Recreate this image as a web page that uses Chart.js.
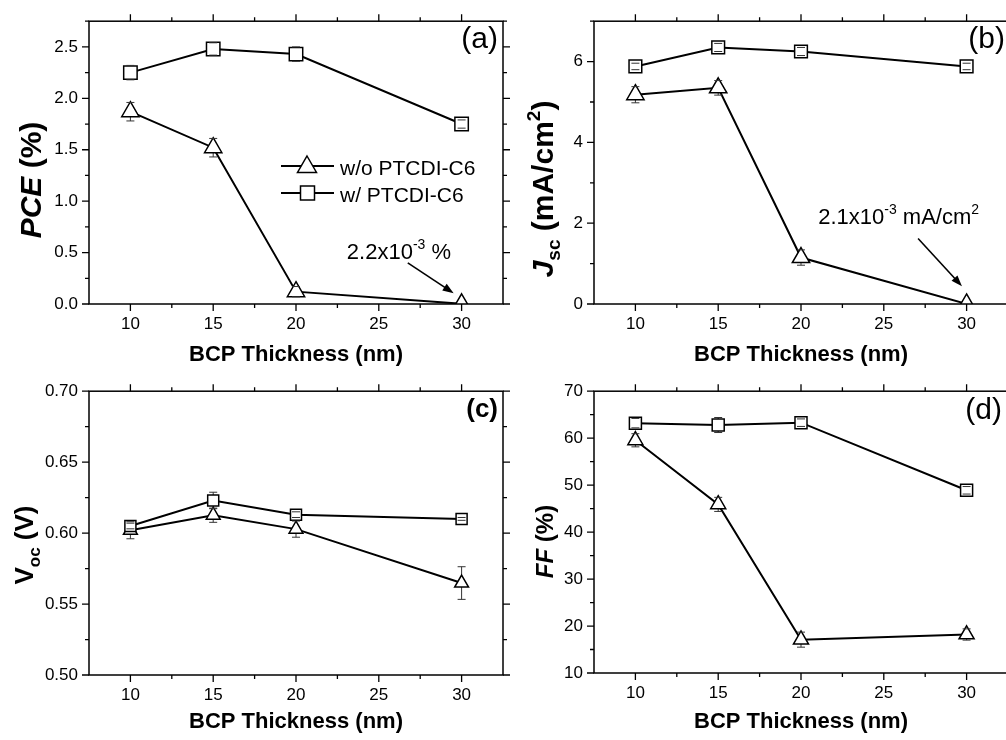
<!DOCTYPE html>
<html>
<head>
<meta charset="utf-8">
<script src="https://cdn.jsdelivr.net/npm/chart.js@4/dist/chart.umd.min.js"></script>
<style>
html, body { margin: 0; padding: 0; background: #fff; overflow: hidden; }
#wrap { position: relative; width: 1006px; height: 740px; overflow: hidden; background: #fff; }
canvas { position: absolute; }
</style>
</head>
<body>
<div id="wrap">
  <canvas id="pa" width="520" height="370" style="left:0;top:0"></canvas>
  <canvas id="pb" width="520" height="370" style="left:503px;top:0"></canvas>
  <canvas id="pc" width="520" height="370" style="left:0;top:370px"></canvas>
  <canvas id="pd" width="520" height="370" style="left:503px;top:370px"></canvas>
</div>
<script>
// datos
const thickness = [10, 15, 20, 30];
const seriesNames = ['w/ PTCDI-C6', 'w/o PTCDI-C6'];

const pceWith = [2.25, 2.48, 2.43, 1.75];
const pceWithErr = [0.07, 0.06, 0.07, 0.04];
const pceWithout = [1.87, 1.52, 0.12, 0.0022];
const pceWithoutErr = [0.09, 0.09, 0.05, 0];

const jscWith = [5.88, 6.35, 6.25, 5.88];
const jscWithErr = [0.08, 0.1, 0.1, 0.08];
const jscWithout = [5.18, 5.35, 1.15, 0.0021];
const jscWithoutErr = [0.2, 0.18, 0.19, 0];

const vocWith = [0.605, 0.623, 0.613, 0.610];
const vocWithErr = [0.002, 0.0058, 0.002, 0.001];
const vocWithout = [0.602, 0.6126, 0.6028, 0.5648];
const vocWithoutErr = [0.006, 0.005, 0.0057, 0.0115];

const ffWith = [63.2, 62.8, 63.3, 48.9];
const ffWithErr = [1.0, 1.6, 0.8, 0.8];
const ffWithout = [59.55, 45.9, 17.1, 18.2];
const ffWithoutErr = [1.4, 1.5, 1.6, 1.2];

// ticks
const xMajor = [10, 15, 20, 25, 30];
const xMinor = [12.5, 17.5, 22.5, 27.5];
const pceMajor = [0, 0.5, 1, 1.5, 2, 2.5];
const pceMinor = [0.25, 0.75, 1.25, 1.75, 2.25, 2.75];
const jscMajor = [0, 2, 4, 6];
const jscMinor = [1, 3, 5, 7];
const vocMajor = [0.5, 0.55, 0.6, 0.65, 0.7];
const vocMinor = [0.525, 0.575, 0.625, 0.675];
const ffMajor = [10, 20, 30, 40, 50, 60, 70];
const ffMinor = [15, 25, 35, 45, 55, 65];

const FONT = "'Liberation Sans', Arial, Helvetica, sans-serif";
Chart.defaults.font.family = FONT;
Chart.defaults.color = '#000';

function fontOf(p) {
  return (p.italic ? 'italic ' : '') + (p.bold ? 'bold ' : '') + p.size + 'px ' + FONT;
}

// texto con sub/superindices
function drawRich(ctx, parts, x, y, rotate, align) {
  ctx.save();
  ctx.translate(x, y);
  if (rotate) ctx.rotate(-Math.PI / 2);
  ctx.textBaseline = 'alphabetic';
  ctx.textAlign = 'left';
  ctx.fillStyle = '#000';
  let total = 0;
  parts.forEach(p => { ctx.font = fontOf(p); p.w = ctx.measureText(p.t).width; total += p.w; });
  let cx = align === 'center' ? -total / 2 : 0;
  parts.forEach(p => { ctx.font = fontOf(p); ctx.fillText(p.t, cx, p.dy || 0); cx += p.w; });
  ctx.restore();
}

function arrow(ctx, x1, y1, x2, y2) {
  const a = Math.atan2(y2 - y1, x2 - x1), L = 11, W = 4;
  ctx.save();
  ctx.strokeStyle = '#000';
  ctx.fillStyle = '#000';
  ctx.lineWidth = 1.6;
  ctx.beginPath();
  ctx.moveTo(x1, y1);
  ctx.lineTo(x2 - L * 0.8 * Math.cos(a), y2 - L * 0.8 * Math.sin(a));
  ctx.stroke();
  ctx.beginPath();
  ctx.moveTo(x2, y2);
  ctx.lineTo(x2 - L * Math.cos(a) + W * Math.sin(a), y2 - L * Math.sin(a) - W * Math.cos(a));
  ctx.lineTo(x2 - L * Math.cos(a) - W * Math.sin(a), y2 - L * Math.sin(a) + W * Math.cos(a));
  ctx.closePath();
  ctx.fill();
  ctx.restore();
}

function eachError(chart, fn) {
  const xs = chart.scales.x, ys = chart.scales.y;
  chart.data.datasets.forEach(ds => {
    ds.data.forEach((p, i) => {
      const e = ds.errors[i];
      if (!e) return;
      fn(xs.getPixelForValue(p.x), ys.getPixelForValue(p.y + e), ys.getPixelForValue(p.y - e));
    });
  });
}

function decor(cfg) {
  return {
    id: 'decor',
    beforeDatasetsDraw(chart) {
      const ctx = chart.ctx;
      ctx.save();
      ctx.strokeStyle = '#333';
      ctx.lineWidth = 1;
      eachError(chart, (x, yt, yb) => {
        ctx.beginPath(); ctx.moveTo(x, yt); ctx.lineTo(x, yb); ctx.stroke();
      });
      ctx.restore();
    },
    afterDatasetsDraw(chart) {
      const ctx = chart.ctx;
      ctx.save();
      ctx.strokeStyle = '#333';
      ctx.lineWidth = 1;
      eachError(chart, (x, yt, yb) => {
        ctx.beginPath();
        ctx.moveTo(x - 4, yt); ctx.lineTo(x + 4, yt);
        ctx.moveTo(x - 4, yb); ctx.lineTo(x + 4, yb);
        ctx.stroke();
      });
      ctx.restore();
    },
    afterDraw(chart) {
      const ctx = chart.ctx, a = chart.chartArea;
      const xs = chart.scales.x, ys = chart.scales.y;
      ctx.save();
      ctx.strokeStyle = '#000';
      ctx.lineWidth = 1.5;
      ctx.strokeRect(a.left, a.top, a.right - a.left, a.bottom - a.top);
      ctx.lineWidth = 1.3;
      ctx.beginPath();
      const tickX = (vals, len) => vals.forEach(v => {
        const px = xs.getPixelForValue(v);
        ctx.moveTo(px, a.bottom); ctx.lineTo(px, a.bottom + len);
        ctx.moveTo(px, a.top); ctx.lineTo(px, a.top - len);
      });
      const tickY = (vals, len) => vals.forEach(v => {
        const py = ys.getPixelForValue(v);
        ctx.moveTo(a.left, py); ctx.lineTo(a.left - len, py);
        ctx.moveTo(a.right, py); ctx.lineTo(a.right + len, py);
      });
      tickX(xMajor, 7); tickX(xMinor, 4);
      tickY(cfg.yMajor, 7); tickY(cfg.yMinor, 4);
      ctx.stroke();
      ctx.restore();

      // titulo eje y
      drawRich(ctx, cfg.yTitle, cfg.yTitlePos[0], cfg.yTitlePos[1], true, 'center');

      // etiqueta del panel
      ctx.save();
      ctx.font = fontOf(cfg.tag);
      ctx.textAlign = 'right';
      ctx.textBaseline = 'alphabetic';
      ctx.fillStyle = '#000';
      ctx.fillText(cfg.tag.t, cfg.tag.x, cfg.tag.y);
      ctx.restore();

      if (cfg.note) {
        const n = cfg.note;
        drawRich(ctx, n.parts, xs.getPixelForValue(n.at[0]), ys.getPixelForValue(n.at[1]), false, 'left');
        arrow(ctx, xs.getPixelForValue(n.from[0]), ys.getPixelForValue(n.from[1]),
              xs.getPixelForValue(n.to[0]), ys.getPixelForValue(n.to[1]));
      }

      if (cfg.legend) {
        ctx.save();
        ctx.strokeStyle = '#000';
        ctx.fillStyle = '#fff';
        // w/o (triangulo)
        ctx.lineWidth = 2;
        ctx.beginPath(); ctx.moveTo(281, 166); ctx.lineTo(334, 166); ctx.stroke();
        ctx.lineWidth = 1.5;
        ctx.beginPath();
        ctx.moveTo(307, 156); ctx.lineTo(307 + 9.5, 172.5); ctx.lineTo(307 - 9.5, 172.5); ctx.closePath();
        ctx.fill(); ctx.stroke();
        // w/ (cuadrado)
        ctx.lineWidth = 2;
        ctx.beginPath(); ctx.moveTo(281, 193); ctx.lineTo(334, 193); ctx.stroke();
        ctx.lineWidth = 1.5;
        ctx.fillRect(300.5, 186, 14, 14);
        ctx.strokeRect(300.5, 186, 14, 14);
        ctx.fillStyle = '#000';
        ctx.font = '21px ' + FONT;
        ctx.textBaseline = 'alphabetic';
        ctx.fillText(seriesNames[1], 340, 175);
        ctx.fillText(seriesNames[0], 340, 201.5);
        ctx.restore();
      }
    }
  };
}

function series(vals, errs, style, r, label) {
  return {
    label: label,
    data: thickness.map((x, i) => ({ x: x, y: vals[i] })),
    errors: errs,
    borderColor: '#000',
    borderWidth: 2,
    pointStyle: style,
    pointRadius: r,
    pointHoverRadius: r,
    pointBackgroundColor: '#fff',
    pointBorderColor: '#000',
    pointBorderWidth: 1.5,
    fill: false,
    tension: 0,
    clip: 0
  };
}

function makePanel(id, cfg) {
  return new Chart(document.getElementById(id), {
    type: 'line',
    data: {
      datasets: [
        series(cfg.withVals, cfg.withErr, 'rect', cfg.sqR, seriesNames[0]),
        series(cfg.withoutVals, cfg.withoutErr, 'triangle', cfg.triR, seriesNames[1])
      ]
    },
    options: {
      responsive: false,
      animation: false,
      devicePixelRatio: 1,
      events: [],
      layout: { padding: { top: cfg.top, right: cfg.right, left: 0, bottom: 0 } },
      plugins: { legend: { display: false }, tooltip: { enabled: false } },
      scales: {
        x: {
          type: 'linear', min: 7.5, max: 32.5,
          grid: { display: false, drawTicks: false },
          border: { display: false },
          afterBuildTicks: s => { s.ticks = xMajor.map(v => ({ value: v })); },
          afterFit: s => { s.height = cfg.xh; },
          ticks: { padding: 10, font: { size: 17 }, color: '#000', autoSkip: false, maxRotation: 0 },
          title: {
            display: true, text: 'BCP Thickness (nm)', color: '#000',
            font: { size: 22, weight: 'bold' }, padding: { top: 0, bottom: cfg.titlePad }
          }
        },
        y: {
          type: 'linear', min: cfg.ymin, max: cfg.ymax,
          grid: { display: false, drawTicks: false },
          border: { display: false },
          afterBuildTicks: s => { s.ticks = cfg.yMajor.map(v => ({ value: v })); },
          afterFit: s => { s.width = cfg.yw; },
          ticks: { padding: 11, font: { size: 17 }, color: '#000', autoSkip: false, callback: v => cfg.fmt(v) }
        }
      }
    },
    plugins: [decor(cfg)]
  });
}

// (a) PCE
makePanel('pa', {
  withVals: pceWith, withErr: pceWithErr, withoutVals: pceWithout, withoutErr: pceWithoutErr,
  sqR: 9.5, triR: 10,
  top: 14, right: 17, yw: 89, xh: 66, titlePad: 2,
  ymin: 0, ymax: 2.75, yMajor: pceMajor, yMinor: pceMinor, fmt: v => v.toFixed(1),
  yTitle: [{ t: 'PCE', size: 30, bold: true, italic: true }, { t: ' (%)', size: 30, bold: true }],
  yTitlePos: [41, 180],
  tag: { t: '(a)', size: 30, x: 498, y: 48 },
  note: {
    parts: [{ t: '2.2x10', size: 22 }, { t: '-3', size: 14, dy: -10 }, { t: ' %', size: 22 }],
    at: [23.07, 0.437], from: [26.75, 0.40], to: [29.52, 0.105]
  },
  legend: true
});

// (b) Jsc
makePanel('pb', {
  withVals: jscWith, withErr: jscWithErr, withoutVals: jscWithout, withoutErr: jscWithoutErr,
  sqR: 9, triR: 10,
  top: 14, right: 15, yw: 91, xh: 66, titlePad: 2,
  ymin: 0, ymax: 7, yMajor: jscMajor, yMinor: jscMinor, fmt: v => String(v),
  yTitle: [
    { t: 'J', size: 30, bold: true, italic: true },
    { t: 'sc', size: 19, bold: true, dy: 7 },
    { t: ' (mA/cm', size: 30, bold: true },
    { t: '2', size: 19, bold: true, dy: -13 },
    { t: ')', size: 30, bold: true }
  ],
  yTitlePos: [50, 189],
  tag: { t: '(b)', size: 30, x: 502, y: 48 },
  note: {
    parts: [{ t: '2.1x10', size: 22 }, { t: '-3', size: 14, dy: -10 }, { t: ' mA/cm', size: 22 }, { t: '2', size: 14, dy: -10 }],
    at: [21.04, 1.98], from: [27.07, 1.62], to: [29.72, 0.44]
  }
});

// (c) Voc
makePanel('pc', {
  withVals: vocWith, withErr: vocWithErr, withoutVals: vocWithout, withoutErr: vocWithoutErr,
  sqR: 7.8, triR: 8,
  top: 15, right: 17, yw: 89, xh: 65, titlePad: 5,
  ymin: 0.5, ymax: 0.7, yMajor: vocMajor, yMinor: vocMinor, fmt: v => v.toFixed(2),
  yTitle: [
    { t: 'V', size: 26, bold: true },
    { t: 'oc', size: 17, bold: true, dy: 7 },
    { t: ' (V)', size: 26, bold: true }
  ],
  yTitlePos: [33, 175],
  tag: { t: '(c)', size: 26, bold: true, x: 498, y: 47 }
});

// (d) FF
makePanel('pd', {
  withVals: ffWith, withErr: ffWithErr, withoutVals: ffWithout, withoutErr: ffWithoutErr,
  sqR: 8.5, triR: 8.7,
  top: 13, right: 15, yw: 91, xh: 67, titlePad: 5,
  ymin: 10, ymax: 70, yMajor: ffMajor, yMinor: ffMinor, fmt: v => String(v),
  yTitle: [{ t: 'FF', size: 24, bold: true, italic: true }, { t: ' (%)', size: 24, bold: true }],
  yTitlePos: [50, 171.5],
  tag: { t: '(d)', size: 30, x: 499, y: 49 }
});
</script>
</body>
</html>
